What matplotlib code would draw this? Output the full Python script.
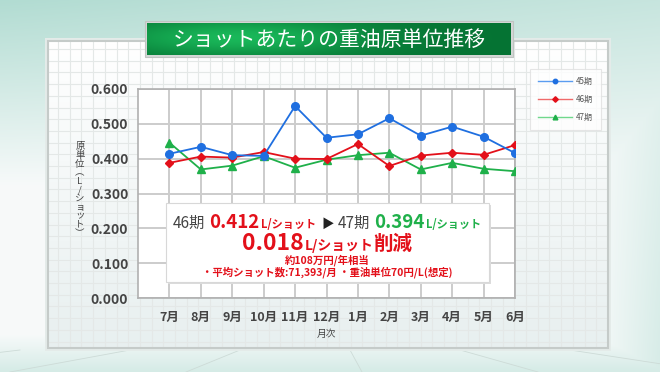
import numpy as np
import matplotlib.pyplot as plt
from matplotlib.patches import Rectangle
from matplotlib.lines import Line2D

plt.rcParams['font.family'] = ['Noto Sans CJK JP', 'DejaVu Sans']

# data
months = ['7月', '8月', '9月', '10月', '11月', '12月', '1月', '2月', '3月', '4月', '5月', '6月']
ki45 = [0.414, 0.434, 0.410, 0.408, 0.551, 0.460, 0.470, 0.516, 0.466, 0.492, 0.463, 0.416]
ki46 = [0.388, 0.406, 0.403, 0.419, 0.400, 0.399, 0.442, 0.379, 0.409, 0.417, 0.411, 0.439]
ki47 = [0.446, 0.369, 0.380, 0.407, 0.374, 0.397, 0.410, 0.417, 0.369, 0.388, 0.371, 0.364]
series_names = ['45期', '46期', '47期']
yticks = [0.0, 0.1, 0.2, 0.3, 0.4, 0.5, 0.6]

title = 'ショットあたりの重油原単位推移'
avg46 = '0.412'
avg47 = '0.394'
diff = '0.018'
unit = 'L/ショット'
note1 = '約108万円/年相当'
note2 = '・平均ショット数:71,393/月 ・重油単位70円/L(想定)'

BLUE = '#1f6fe0'
RED = '#e3101a'
GREEN = '#1fb04a'

W, H = 660, 372
fig = plt.figure(figsize=(W / 100, H / 100), dpi=100)

# background layer in pixel coordinates
bg = fig.add_axes([0, 0, 1, 1])
bg.set_xlim(0, W)
bg.set_ylim(H, 0)
bg.axis('off')

yy, xx = np.mgrid[0:1:H * 1j, 0:1:W * 1j]
tint = np.clip(0.65 * (1 - yy * 2.0), 0, 1) * (1 - 0.3 * xx)
tint = np.maximum(tint, np.clip((xx - 0.9) * 5, 0, 1) * (0.35 + 0.25 * yy))
tint = np.maximum(tint, np.clip((yy - 0.9) * 8, 0, 1) * 0.4)
teal = np.array([0.55, 0.80, 0.74])
img = (1 - tint[..., None]) * np.array([0.97, 0.98, 0.98]) + tint[..., None] * teal
bg.imshow(img, extent=(0, W, H, 0), aspect='auto', zorder=0)

# floor lines
for x0 in range(-200, 900, 110):
    bg.plot([x0, x0 + (x0 - 330) * 0.6], [350, 372], color='#cddbd7', lw=0.6, zorder=1)

# board
bx0, bx1, by0, by1 = 48, 608, 41, 348
bg.add_patch(Rectangle((bx0 - 3, by0 - 3), bx1 - bx0 + 6, by1 - by0 + 6,
                       facecolor='#e4ebe9', edgecolor='none', zorder=2))
bgrad = np.linspace(0, 1, 100)[:, None] * np.ones((1, 10))
bimg = (1 - bgrad[..., None] * 0.06) * np.ones(3)
bimg[..., 0] -= bgrad * 0.03
bg.imshow(bimg, extent=(bx0, bx1, by1, by0), aspect='auto', zorder=3)
for gx in np.arange(bx0 + 10, bx1, 11.7):
    bg.plot([gx, gx], [by0, by1], color='#e4e8e7', lw=0.8, zorder=4)
for gy in np.arange(by0 + 8, by1, 11.7):
    bg.plot([bx0, bx1], [gy, gy], color='#e4e8e7', lw=0.8, zorder=4)
bg.add_patch(Rectangle((bx0, by0), bx1 - bx0, by1 - by0, facecolor='none',
                       edgecolor='#c5cbc9', lw=1.5, zorder=5))

# title banner
tx0, tx1, ty0, ty1 = 147, 511, 23, 55
bg.add_patch(Rectangle((tx0 - 2, ty0 - 2), tx1 - tx0 + 4, ty1 - ty0 + 4,
                       facecolor='#d4d8d6', edgecolor='#c0c4c2', lw=0.8, zorder=5))
gx_ = np.linspace(0, 1, 200)
gy_ = np.linspace(0, 1, 40)
GX, GY = np.meshgrid(gx_, gy_)
light = np.exp(-((GX - 0.25) / 0.35) ** 2) * np.exp(-((GY - 0.45) / 0.6) ** 2)
dark = np.array([0.02, 0.45, 0.20])
bright = np.array([0.10, 0.72, 0.35])
timg = dark + (bright - dark) * light[..., None]
bg.imshow(timg, extent=(tx0, tx1, ty1, ty0), aspect='auto', zorder=6)
bg.text((tx0 + tx1) / 2, (ty0 + ty1) / 2 + 1, title, color='white', fontsize=15,
        ha='center', va='center', zorder=7)

# main chart
ax = fig.add_axes([138 / W, 1 - 298 / H, (515 - 138) / W, (298 - 89) / H])
ax.set_facecolor('white')
x = np.arange(len(months))
ax.plot(x, ki45, color=BLUE, marker='o', ms=5.5, lw=1.3, zorder=5)
ax.plot(x, ki46, color=RED, marker='D', ms=4.2, lw=1.3, zorder=4)
ax.plot(x, ki47, color=GREEN, marker='^', ms=5.5, lw=1.3, zorder=3)
ax.set_xlim(-1, 11)
ax.set_ylim(0, 0.6)
ax.set_xticks(x)
ax.set_xticklabels(months, fontsize=9, fontweight='bold', color='#444444')
ax.set_yticks(yticks)
ax.set_yticklabels([f'{v:.3f}' for v in yticks], fontsize=10, fontweight='bold', color='#444444')
ax.tick_params(length=0)
ax.tick_params(axis='x', pad=9)
ax.tick_params(axis='y', pad=7)
ax.grid(True, color='#cccccc', lw=1.4)
ax.set_axisbelow(True)
for sp in ax.spines.values():
    sp.set_color('#b0b0b0')
    sp.set_linewidth(1.2)

bg.text(326, 334, '月次', fontsize=7, color='#444444', ha='center', va='center', zorder=8)
bg.text(80, 190, '原\n単\n位\n︵\nL\n/\nシ\nョ\nッ\nト\n︶', fontsize=6.8, color='#444444',
        ha='center', va='center', linespacing=0.95, zorder=8)

# legend
handles = [Line2D([], [], color='#5a9cf0', marker='o', ms=3.2, lw=1.0, mfc=BLUE, mec=BLUE),
           Line2D([], [], color='#f06a6a', marker='D', ms=2.8, lw=1.0, mfc=RED, mec=RED),
           Line2D([], [], color='#6fd88c', marker='^', ms=3.4, lw=1.0, mfc=GREEN, mec=GREEN)]
leg = fig.legend(handles, series_names, loc='upper left', bbox_to_anchor=(526 / W, 1 - 65 / H),
                 fontsize=5.8, frameon=True, fancybox=False, handlelength=4.2,
                 handletextpad=0.5, labelspacing=1.1, borderpad=1.0, labelcolor='#555555')
leg.get_frame().set_edgecolor('#e0e0e0')
leg.get_frame().set_linewidth(0.8)

# annotation box
ax2 = fig.add_axes([0, 0, 1, 1], facecolor='none')
ax2.set_xlim(0, W)
ax2.set_ylim(H, 0)
ax2.axis('off')
ax2.add_patch(Rectangle((168, 205), 323, 79, facecolor='#dcdcdc', edgecolor='none', zorder=1))
ax2.add_patch(Rectangle((166, 203), 323, 79, facecolor='white', edgecolor='#d8d8d8', lw=0.8, zorder=2))

renderer = fig.canvas.get_renderer()


def draw_pieces(y, pieces, cx=327):
    texts = []
    for s, size, color, weight, gap in pieces:
        t = ax2.text(0, y, s, fontsize=size, color=color, fontweight=weight,
                     ha='left', va='baseline', zorder=3)
        texts.append((t, gap))
    widths = [t.get_window_extent(renderer).width + gap for t, gap in texts]
    pos = cx - sum(widths) / 2
    for (t, gap), w in zip(texts, widths):
        t.set_position((pos, y))
        pos += w


draw_pieces(228, [('46期', 11, '#444444', 'normal', 4),
                  (avg46, 13.5, RED, 'bold', 1),
                  (unit, 8, RED, 'bold', 6),
                  ('▶', 9, '#222222', 'normal', 4),
                  ('47期', 11, '#444444', 'normal', 4),
                  (avg47, 13.5, GREEN, 'bold', 1),
                  (unit, 8, GREEN, 'bold', 0)])
draw_pieces(250, [(diff, 16.5, RED, 'bold', 1),
                  (unit, 10, RED, 'bold', 0),
                  ('削減', 14, RED, 'bold', 0)])
draw_pieces(264, [(note1, 7.5, RED, 'bold', 0)])
draw_pieces(275, [(note2, 7.5, RED, 'bold', 0)])

fig.savefig('out.png', dpi=100)
